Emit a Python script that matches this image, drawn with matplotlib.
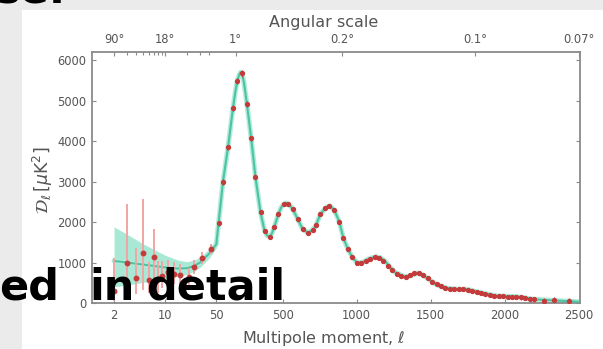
import numpy as np
import matplotlib
matplotlib.use("Agg")
import matplotlib.pyplot as plt
from matplotlib.patches import Rectangle

# ---------------- data ----------------
# low-multipole measurements with asymmetric errors
ell_low = [2, 3, 4, 5, 6, 7, 8, 9, 11, 13, 16, 21, 25, 32, 42]
dl_low = [300, 980, 610, 1240, 560, 1140, 585, 665, 770, 715, 700, 640, 880, 1100, 1330]
err_low_minus = [250, 660, 380, 920, 320, 650, 330, 300, 260, 240, 220, 190, 160, 130, 110]
err_low_plus = [800, 1460, 750, 1320, 450, 700, 450, 380, 300, 300, 270, 230, 190, 150, 120]

# binned high-multipole measurements
ell_high = [65, 95, 129, 163, 192, 223, 257, 286, 315, 349,
            376, 410, 443, 470, 507, 538, 568, 601, 635, 669,
            702, 725, 754, 788, 814, 848, 882, 910, 940, 970,
            1000, 1030, 1060, 1090, 1120, 1150, 1180, 1210, 1240, 1270,
            1300, 1330, 1360, 1390, 1420, 1450, 1480, 1510, 1540, 1570,
            1600, 1630, 1660, 1690, 1720, 1750, 1780, 1810, 1840, 1870,
            1900, 1930, 1960, 1990, 2020, 2050, 2080, 2110, 2140, 2170,
            2200, 2265, 2333, 2434]
dl_high = [1968, 2995, 3844, 4822, 5489, 5671, 4913, 4066, 3104, 2239,
           1785, 1637, 1884, 2197, 2444, 2444, 2313, 2067, 1820, 1736,
           1802, 1926, 2197, 2338, 2395, 2296, 2007, 1600, 1330, 1130,
           990, 990, 1030, 1090, 1140, 1120, 1040, 920, 810, 720,
           670, 650, 680, 730, 740, 690, 610, 530, 460, 410,
           370, 350, 340, 340, 340, 330, 300, 270, 250, 230,
           200, 180, 170, 165, 160, 155, 150, 140, 120, 100,
           90, 57, 74, 49]
err_high = [60, 70, 70, 70, 80, 80, 70, 60, 50, 45,
            40, 40, 40, 40, 40, 40, 40, 38, 36, 35,
            35, 35, 35, 35, 35, 35, 34, 32, 30, 30,
            30, 30, 30, 30, 30, 30, 30, 30, 30, 30,
            30, 30, 30, 30, 30, 30, 30, 30, 30, 32,
            32, 32, 34, 34, 34, 36, 36, 38, 38, 40,
            40, 42, 44, 46, 48, 50, 52, 54, 56, 58,
            60, 65, 70, 80]

# best-fit model spectrum
ell_model = [2, 3, 5, 10, 15, 20, 25, 30, 40, 50,
             65, 80, 95, 112, 129, 146, 163, 178, 192, 205,
             215, 225, 237, 257, 286, 315, 349, 376, 395, 410,
             425, 443, 470, 490, 507, 522, 538, 555, 568, 601,
             635, 669, 702, 725, 754, 788, 805, 820, 848, 882,
             910, 940, 970, 1006, 1040, 1080, 1130, 1160, 1190, 1253,
             1321, 1370, 1411, 1440, 1478, 1546, 1613, 1680, 1748, 1800,
             1860, 1951, 2086, 2198, 2300, 2400, 2500]
dl_model = [1040, 1000, 950, 880, 850, 860, 920, 1000, 1220, 1450,
            1968, 2480, 2995, 3420, 3844, 4330, 4822, 5200, 5489, 5640,
            5700, 5660, 5450, 4913, 4066, 3104, 2239, 1785, 1660, 1637,
            1710, 1884, 2197, 2370, 2444, 2470, 2444, 2380, 2313, 2067,
            1820, 1736, 1802, 1926, 2197, 2338, 2390, 2395, 2296, 2007,
            1600, 1330, 1130, 980, 1010, 1090, 1143, 1120, 1040, 773,
            649, 680, 740, 700, 610, 444, 363, 340, 338, 290,
            240, 173, 156, 91, 70, 50, 30]

# cosmic-variance band at low multipoles
ell_band = [2, 3, 5, 10, 15, 20, 25, 30, 40, 50]
band_hi = [1880, 1700, 1460, 1180, 1060, 1020, 1060, 1130, 1330, 1540]
band_lo = [400, 440, 510, 600, 660, 710, 790, 880, 1110, 1360]

bottom_ticks = [2, 10, 50, 500, 1000, 1500, 2000, 2500]
top_ticks = [2, 10, 180, 900, 1800, 2500]
top_labels = ["90°", "18°", "1°", "0.2°", "0.1°", "0.07°"]
top_minor = [3, 4, 5, 6, 7, 8, 9, 20, 30, 40]
y_ticks = [0, 1000, 2000, 3000, 4000, 5000, 6000]

# ---------------- hybrid log/linear multipole scale ----------------
BREAK = 50.0
PER_DECADE = 73.0
PER_UNIT = 0.1475


def fwd(l):
    l = np.asarray(l, dtype=float)
    return np.where(l < BREAK,
                    PER_DECADE * np.log10(np.clip(l, 1e-6, None) / BREAK),
                    PER_UNIT * (l - BREAK))


def inv(u):
    u = np.asarray(u, dtype=float)
    return np.where(u < 0,
                    BREAK * 10 ** (np.clip(u, -1e4, 0) / PER_DECADE),
                    BREAK + u / PER_UNIT)


W, H = 603, 349
fig = plt.figure(figsize=(W / 100, H / 100), dpi=100)
fig.patch.set_facecolor("#ebebeb")
fig.add_artist(Rectangle((22 / W, 0), 1 - 22 / W, 1 - 10 / H,
                         transform=fig.transFigure, facecolor="white",
                         edgecolor="none", zorder=0))

ax = fig.add_axes([92 / W, 1 - 303 / H, 488 / W, 251 / H])
ax.set_xscale("function", functions=(fwd, inv))
ax.set_xlim(1.0, 2510)
ax.set_ylim(0, 6200)

grey = "#555555"
spine_c = "#8a8a8a"

# model band and line
ax.fill_between(ell_band, band_lo, band_hi, color="#a8e8d4", lw=0, zorder=1)
ax.plot(ell_model, dl_model, color="#b2ebda", lw=3.6, zorder=2,
        solid_capstyle="round")
ax.plot(ell_model, dl_model, color="#4cc4a2", lw=1.5, zorder=3)

# measurements
ax.errorbar(ell_low, dl_low, yerr=[err_low_minus, err_low_plus], fmt="o",
            ms=3.2, color="#c53a3a", ecolor="#f2a5a5", elinewidth=1.4,
            capsize=0, zorder=4)
ax.errorbar(ell_high, dl_high, yerr=err_high, fmt="o", ms=2.8,
            color="#c53a3a", ecolor="#c53a3a", elinewidth=0.8,
            capsize=0, zorder=5)

ax.set_xticks(bottom_ticks)
ax.set_xticklabels([str(t) for t in bottom_ticks])
ax.set_yticks(y_ticks)
ax.set_yticklabels([str(t) for t in y_ticks])
ax.minorticks_off()
ax.tick_params(axis="both", direction="in", length=3, width=0.8,
               colors=spine_c, labelcolor=grey, labelsize=8.3, pad=4)
ax.tick_params(axis="y", right=True)
for s in ax.spines.values():
    s.set_color(spine_c)
    s.set_linewidth(1.3)

# angular scale on top
top = ax.twiny()
top.set_xscale("function", functions=(fwd, inv))
top.set_xlim(ax.get_xlim())
top.set_xticks(top_ticks)
top.set_xticklabels(top_labels)
top.set_xticks(top_minor, minor=True)
top.tick_params(axis="x", which="both", direction="in", colors=spine_c,
                labelcolor=grey, labelsize=8.3, pad=4, width=0.8)
top.tick_params(axis="x", which="major", length=3)
top.tick_params(axis="x", which="minor", length=2)
for s in top.spines.values():
    s.set_visible(False)

fig.text(324 / W, 1 - 23 / H, "Angular scale", ha="center", va="center",
         fontsize=11.5, color=grey)
fig.text(324 / W, 1 - 338 / H, r"Multipole moment, $\ell$", ha="center",
         va="center", fontsize=11.5, color=grey)
fig.text(43 / W, 1 - 180 / H, r"$\mathcal{D}_\ell\,[\mu\mathrm{K}^2]$",
         ha="center", va="center", rotation=90, fontsize=12.5, color=grey)

# slide text laid over the chart
slide_font = dict(fontsize=31, fontweight="bold", family="DejaVu Sans",
                  color="black", zorder=20, va="baseline", ha="left")
fig.text(-1 / W, 1 - 300 / H, "ed", **slide_font)
fig.text(89 / W, 1 - 300 / H, "in", **slide_font)
fig.text(146 / W, 1 - 300 / H, "detail", **slide_font)
fig.text(66 / W, 1 - 3.5 / H, "se.", **{**slide_font, "ha": "right"})

fig.savefig("out.png", dpi=100, facecolor=fig.get_facecolor())
